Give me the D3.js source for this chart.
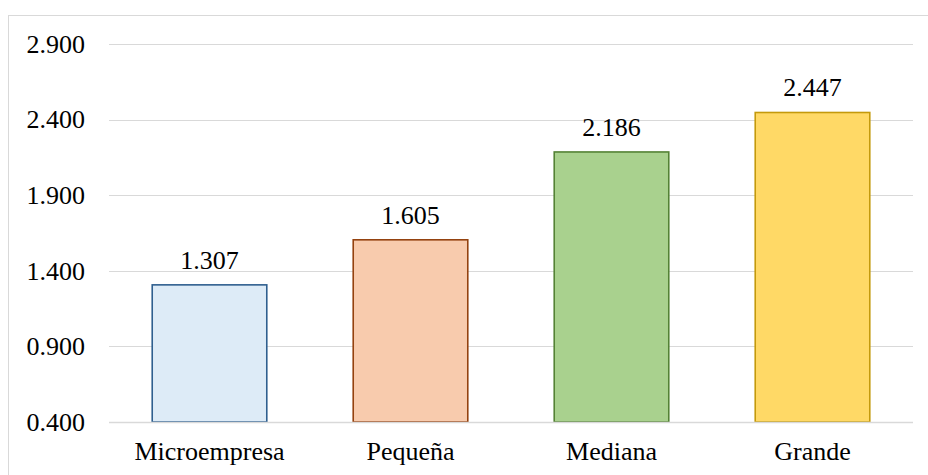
<!DOCTYPE html>
<html>
<head>
<meta charset="utf-8">
<script src="https://cdn.jsdelivr.net/npm/d3@7"></script>
<style>
  html, body { margin: 0; padding: 0; background: #fff; }
  svg { display: block; }
  svg text { font-family: "Liberation Serif", "Times New Roman", "DejaVu Serif", serif; font-size: 26px; fill: #000; }
</style>
</head>
<body>
<svg id="chart" width="928" height="475"></svg>
<script>
// Average by company size
const categories = ["Microempresa", "Pequeña", "Mediana", "Grande"];
const values = [1.307, 1.605, 2.186, 2.447];
const tickValues = [0.4, 0.9, 1.4, 1.9, 2.4, 2.9];
const fills = ["#DDEBF7", "#F8CBAD", "#A9D18E", "#FFD966"];
const strokes = ["#2F5F8F", "#94420F", "#548235", "#C49A0C"];

const fmt = v => d3.format(".3f")(v);

const svg = d3.select("#chart");
const W = 928, H = 475;
const plot = { left: 109, right: 913, top: 44, bottom: 422 };

// outer frame
svg.append("rect")
  .attr("x", 8.5).attr("y", 15.5)
  .attr("width", W).attr("height", H)
  .attr("fill", "none").attr("stroke", "#d9d9d9").attr("stroke-width", 1);

const x = d3.scaleBand()
  .domain(categories)
  .range([plot.left, plot.right])
  .paddingInner(0.43).paddingOuter(0.215);

const y = d3.scaleLinear()
  .domain([0.4, 2.9])
  .range([plot.bottom, plot.top]);

const gridY = d => Math.round(y(d)) + 0.5;

// horizontal gridlines (the baseline is drawn after the bars)
svg.append("g")
  .selectAll("line")
  .data(tickValues.slice(1))
  .join("line")
  .attr("x1", plot.left).attr("x2", plot.right)
  .attr("y1", gridY).attr("y2", gridY)
  .attr("stroke", "#d9d9d9").attr("stroke-width", 1.2);

// y-axis labels
const yAxis = d3.axisLeft(y).tickValues(tickValues).tickFormat(fmt).tickSize(0).tickPadding(0);
svg.append("g")
  .attr("transform", `translate(85,0)`)
  .call(yAxis)
  .call(g => g.select(".domain").remove())
  .call(g => g.attr("font-family", null).attr("font-size", null));

// bars
svg.append("g")
  .selectAll("rect")
  .data(categories)
  .join("rect")
  .attr("x", d => x(d))
  .attr("y", (d, i) => y(values[i]))
  .attr("width", x.bandwidth())
  .attr("height", (d, i) => y(0.4) - y(values[i]))
  .attr("fill", (d, i) => fills[i])
  .attr("stroke", (d, i) => strokes[i])
  .attr("stroke-width", 1.6);

// baseline
svg.append("line")
  .attr("x1", plot.left).attr("x2", plot.right)
  .attr("y1", gridY(0.4)).attr("y2", gridY(0.4))
  .attr("stroke", "#d9d9d9").attr("stroke-width", 1.6);

// value labels
svg.append("g")
  .selectAll("text")
  .data(categories)
  .join("text")
  .attr("x", d => x(d) + x.bandwidth() / 2)
  .attr("y", (d, i) => y(values[i]) - 16)
  .attr("text-anchor", "middle")
  .text((d, i) => fmt(values[i]));

// category labels
const xAxis = d3.axisBottom(x).tickSize(0).tickPadding(0);
svg.append("g")
  .attr("transform", `translate(0,${plot.bottom + 20})`)
  .call(xAxis)
  .call(g => g.select(".domain").remove())
  .call(g => g.attr("font-family", null).attr("font-size", null));
</script>
</body>
</html>
